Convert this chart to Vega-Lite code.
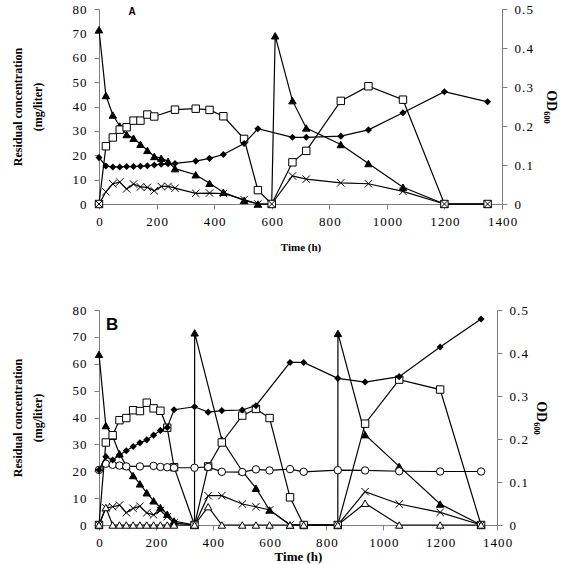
{
  "$schema": "https://vega.github.io/schema/vega-lite/v6.json",
  "background": "white",
  "padding": {"left": 11, "top": 3, "right": 2, "bottom": 2},
  "spacing": 52,
  "config": {
    "view": {"stroke": null},
    "axis": {
      "grid": false,
      "labelFont": "Liberation Serif",
      "labelFontSize": 13,
      "labelColor": "black",
      "titleFont": "Liberation Serif",
      "titleFontWeight": "bold",
      "titleColor": "black",
      "domainColor": "#7f7f7f",
      "tickColor": "#7f7f7f",
      "tickSize": 5,
      "labelFlush": false,
      "labelOverlap": false,
      "labelExpr": "join(split(datum.label, ''), '\u200a')"
    }
  },
  "datasets": {
    "concA": [
      {"t": 0, "v": 71.5, "s": "tri"}, {"t": 24, "v": 44.5, "s": "tri"}, {"t": 48, "v": 36.5, "s": "tri"}, {"t": 72, "v": 32, "s": "tri"}, {"t": 96, "v": 28.5, "s": "tri"}, {"t": 120, "v": 27, "s": "tri"}, {"t": 144, "v": 24.5, "s": "tri"}, {"t": 168, "v": 22, "s": "tri"}, {"t": 192, "v": 19.5, "s": "tri"}, {"t": 216, "v": 18.8, "s": "tri"}, {"t": 240, "v": 17.5, "s": "tri"}, {"t": 264, "v": 14.5, "s": "tri"}, {"t": 336, "v": 12, "s": "tri"}, {"t": 384, "v": 8.5, "s": "tri"}, {"t": 432, "v": 4.8, "s": "tri"}, {"t": 504, "v": 1.5, "s": "tri"}, {"t": 552, "v": 0, "s": "tri"}, {"t": 600, "v": 0, "s": "tri"}, {"t": 612, "v": 69, "s": "tri"}, {"t": 672, "v": 42.4, "s": "tri"}, {"t": 720, "v": 31.2, "s": "tri"}, {"t": 840, "v": 24.4, "s": "tri"}, {"t": 936, "v": 16.6, "s": "tri"}, {"t": 1056, "v": 6.9, "s": "tri"}, {"t": 1200, "v": 0, "s": "tri"}, {"t": 1350, "v": 0, "s": "tri"},
      {"t": 0, "v": 0, "s": "sq"}, {"t": 24, "v": 23.7, "s": "sq"}, {"t": 48, "v": 27.3, "s": "sq"}, {"t": 72, "v": 30.5, "s": "sq"}, {"t": 96, "v": 31.5, "s": "sq"}, {"t": 120, "v": 34.2, "s": "sq"}, {"t": 144, "v": 34.2, "s": "sq"}, {"t": 168, "v": 36.7, "s": "sq"}, {"t": 192, "v": 35.9, "s": "sq"}, {"t": 264, "v": 38.7, "s": "sq"}, {"t": 336, "v": 39.1, "s": "sq"}, {"t": 384, "v": 38.6, "s": "sq"}, {"t": 432, "v": 36, "s": "sq"}, {"t": 504, "v": 26.7, "s": "sq"}, {"t": 552, "v": 5.7, "s": "sq"}, {"t": 600, "v": 0, "s": "sq"}, {"t": 672, "v": 17.1, "s": "sq"}, {"t": 720, "v": 21.8, "s": "sq"}, {"t": 840, "v": 42.3, "s": "sq"}, {"t": 936, "v": 48.3, "s": "sq"}, {"t": 1056, "v": 42.8, "s": "sq"}, {"t": 1200, "v": 0, "s": "sq"}, {"t": 1350, "v": 0, "s": "sq"},
      {"t": 0, "v": 0, "s": "x"}, {"t": 24, "v": 5, "s": "x"}, {"t": 48, "v": 8.3, "s": "x"}, {"t": 72, "v": 9, "s": "x"}, {"t": 96, "v": 6.2, "s": "x"}, {"t": 120, "v": 8.2, "s": "x"}, {"t": 144, "v": 7, "s": "x"}, {"t": 168, "v": 6.8, "s": "x"}, {"t": 192, "v": 5.4, "s": "x"}, {"t": 216, "v": 7.2, "s": "x"}, {"t": 240, "v": 7.2, "s": "x"}, {"t": 264, "v": 6.5, "s": "x"}, {"t": 336, "v": 4.4, "s": "x"}, {"t": 384, "v": 4.5, "s": "x"}, {"t": 432, "v": 4.3, "s": "x"}, {"t": 504, "v": 1.8, "s": "x"}, {"t": 552, "v": 0, "s": "x"}, {"t": 600, "v": 0, "s": "x"}, {"t": 672, "v": 11.5, "s": "x"}, {"t": 720, "v": 10.2, "s": "x"}, {"t": 840, "v": 8.7, "s": "x"}, {"t": 936, "v": 8.3, "s": "x"}, {"t": 1056, "v": 5.2, "s": "x"}, {"t": 1200, "v": 0, "s": "x"}, {"t": 1350, "v": 0, "s": "x"}
    ],
    "odA": [
      {"t": 0, "od": 0.119}, {"t": 24, "od": 0.0975}, {"t": 48, "od": 0.095}, {"t": 72, "od": 0.095}, {"t": 96, "od": 0.096}, {"t": 120, "od": 0.096}, {"t": 144, "od": 0.097}, {"t": 168, "od": 0.098}, {"t": 192, "od": 0.1}, {"t": 216, "od": 0.102}, {"t": 240, "od": 0.103}, {"t": 264, "od": 0.104}, {"t": 336, "od": 0.11}, {"t": 384, "od": 0.117}, {"t": 432, "od": 0.127}, {"t": 504, "od": 0.155}, {"t": 552, "od": 0.193}, {"t": 672, "od": 0.171}, {"t": 720, "od": 0.171}, {"t": 840, "od": 0.174}, {"t": 936, "od": 0.19}, {"t": 1056, "od": 0.234}, {"t": 1200, "od": 0.288}, {"t": 1350, "od": 0.262}
    ],
    "concB": [
      {"t": 0, "v": 63.5, "s": "tri"}, {"t": 24, "v": 37, "s": "tri"}, {"t": 48, "v": 33, "s": "tri"}, {"t": 72, "v": 26.5, "s": "tri"}, {"t": 96, "v": 22, "s": "tri"}, {"t": 120, "v": 18.4, "s": "tri"}, {"t": 144, "v": 15.3, "s": "tri"}, {"t": 168, "v": 12, "s": "tri"}, {"t": 192, "v": 9, "s": "tri"}, {"t": 216, "v": 6.5, "s": "tri"}, {"t": 240, "v": 4, "s": "tri"}, {"t": 264, "v": 1.5, "s": "tri"}, {"t": 336, "v": 0, "s": "tri"}, {"t": 336.5, "v": 71.5, "s": "tri"}, {"t": 432, "v": 31.7, "s": "tri"}, {"t": 504, "v": 20, "s": "tri"}, {"t": 552, "v": 13.7, "s": "tri"}, {"t": 600, "v": 5.6, "s": "tri"}, {"t": 672, "v": 0, "s": "tri"}, {"t": 840, "v": 0, "s": "tri"}, {"t": 840.5, "v": 71.3, "s": "tri"}, {"t": 936, "v": 33.6, "s": "tri"}, {"t": 1056, "v": 21.8, "s": "tri"}, {"t": 1200, "v": 7.8, "s": "tri"}, {"t": 1344, "v": 0, "s": "tri"},
      {"t": 0, "v": 0, "s": "sq"}, {"t": 24, "v": 30.7, "s": "sq"}, {"t": 48, "v": 33.4, "s": "sq"}, {"t": 72, "v": 39, "s": "sq"}, {"t": 96, "v": 39.8, "s": "sq"}, {"t": 120, "v": 42.7, "s": "sq"}, {"t": 144, "v": 42.4, "s": "sq"}, {"t": 168, "v": 45.5, "s": "sq"}, {"t": 192, "v": 43.4, "s": "sq"}, {"t": 216, "v": 42.5, "s": "sq"}, {"t": 240, "v": 36.2, "s": "sq"}, {"t": 264, "v": 21.5, "s": "sq"}, {"t": 336, "v": 0, "s": "sq"}, {"t": 384, "v": 21.8, "s": "sq"}, {"t": 432, "v": 30.7, "s": "sq"}, {"t": 504, "v": 40.7, "s": "sq"}, {"t": 552, "v": 43.2, "s": "sq"}, {"t": 600, "v": 39.8, "s": "sq"}, {"t": 672, "v": 10.3, "s": "sq"}, {"t": 720, "v": 0, "s": "sq"}, {"t": 840, "v": 0, "s": "sq"}, {"t": 936, "v": 37.7, "s": "sq"}, {"t": 1056, "v": 54.1, "s": "sq"}, {"t": 1200, "v": 50.4, "s": "sq"}, {"t": 1344, "v": 0, "s": "sq"},
      {"t": 0, "v": 0, "s": "x"}, {"t": 24, "v": 6.4, "s": "x"}, {"t": 48, "v": 6.8, "s": "x"}, {"t": 72, "v": 7.4, "s": "x"}, {"t": 96, "v": 4.6, "s": "x"}, {"t": 120, "v": 6.2, "s": "x"}, {"t": 144, "v": 7, "s": "x"}, {"t": 168, "v": 4.5, "s": "x"}, {"t": 192, "v": 3.8, "s": "x"}, {"t": 216, "v": 5.4, "s": "x"}, {"t": 240, "v": 3.1, "s": "x"}, {"t": 264, "v": 0.8, "s": "x"}, {"t": 336, "v": 0, "s": "x"}, {"t": 384, "v": 10.9, "s": "x"}, {"t": 432, "v": 10.9, "s": "x"}, {"t": 504, "v": 7.8, "s": "x"}, {"t": 552, "v": 6.8, "s": "x"}, {"t": 600, "v": 5.6, "s": "x"}, {"t": 672, "v": 0, "s": "x"}, {"t": 840, "v": 0, "s": "x"}, {"t": 936, "v": 12.4, "s": "x"}, {"t": 1056, "v": 7.8, "s": "x"}, {"t": 1200, "v": 4.7, "s": "x"}, {"t": 1344, "v": 0, "s": "x"},
      {"t": 0, "v": 20.5, "s": "circ"}, {"t": 24, "v": 22.8, "s": "circ"}, {"t": 48, "v": 22.4, "s": "circ"}, {"t": 72, "v": 22.1, "s": "circ"}, {"t": 96, "v": 21.8, "s": "circ"}, {"t": 144, "v": 21.8, "s": "circ"}, {"t": 192, "v": 22, "s": "circ"}, {"t": 216, "v": 21.6, "s": "circ"}, {"t": 240, "v": 21.5, "s": "circ"}, {"t": 264, "v": 21.3, "s": "circ"}, {"t": 336, "v": 21.3, "s": "circ"}, {"t": 384, "v": 21.6, "s": "circ"}, {"t": 432, "v": 19.8, "s": "circ"}, {"t": 504, "v": 19.7, "s": "circ"}, {"t": 552, "v": 20.7, "s": "circ"}, {"t": 600, "v": 20.3, "s": "circ"}, {"t": 672, "v": 20.8, "s": "circ"}, {"t": 720, "v": 19.8, "s": "circ"}, {"t": 840, "v": 20.4, "s": "circ"}, {"t": 936, "v": 20.3, "s": "circ"}, {"t": 1056, "v": 20, "s": "circ"}, {"t": 1200, "v": 19.9, "s": "circ"}, {"t": 1344, "v": 19.9, "s": "circ"},
      {"t": 0, "v": 0, "s": "otri"}, {"t": 24, "v": 6.5, "s": "otri"}, {"t": 48, "v": 0, "s": "otri"}, {"t": 72, "v": 0, "s": "otri"}, {"t": 96, "v": 0, "s": "otri"}, {"t": 120, "v": 0, "s": "otri"}, {"t": 144, "v": 0, "s": "otri"}, {"t": 168, "v": 0, "s": "otri"}, {"t": 192, "v": 0, "s": "otri"}, {"t": 216, "v": 0, "s": "otri"}, {"t": 240, "v": 0, "s": "otri"}, {"t": 264, "v": 0, "s": "otri"}, {"t": 336, "v": 0, "s": "otri"}, {"t": 384, "v": 6.8, "s": "otri"}, {"t": 432, "v": 0, "s": "otri"}, {"t": 504, "v": 0, "s": "otri"}, {"t": 552, "v": 0, "s": "otri"}, {"t": 600, "v": 0, "s": "otri"}, {"t": 672, "v": 0, "s": "otri"}, {"t": 720, "v": 0, "s": "otri"}, {"t": 840, "v": 0, "s": "otri"}, {"t": 936, "v": 8.1, "s": "otri"}, {"t": 1056, "v": 0, "s": "otri"}, {"t": 1200, "v": 0, "s": "otri"}, {"t": 1344, "v": 0, "s": "otri"}
    ],
    "odB": [
      {"t": 0, "od": 0.128}, {"t": 24, "od": 0.159}, {"t": 48, "od": 0.151}, {"t": 72, "od": 0.163}, {"t": 96, "od": 0.1725}, {"t": 120, "od": 0.1825}, {"t": 144, "od": 0.191}, {"t": 168, "od": 0.198}, {"t": 192, "od": 0.209}, {"t": 216, "od": 0.22}, {"t": 240, "od": 0.227}, {"t": 264, "od": 0.268}, {"t": 336, "od": 0.275}, {"t": 384, "od": 0.2625}, {"t": 432, "od": 0.266}, {"t": 504, "od": 0.2675}, {"t": 552, "od": 0.2775}, {"t": 672, "od": 0.378}, {"t": 720, "od": 0.378}, {"t": 840, "od": 0.341}, {"t": 936, "od": 0.3325}, {"t": 1056, "od": 0.345}, {"t": 1200, "od": 0.414}, {"t": 1344, "od": 0.479}
    ]
  },
  "vconcat": [
    {
      "width": 403,
      "height": 195,
      "layer": [
        {
          "encoding": {
            "x": {"field": "t", "type": "quantitative", "scale": {"domain": [0, 1400], "nice": false}, "axis": {"title": "Time (h)", "values": [0, 200, 400, 600, 800, 1000, 1200, 1400], "format": "d", "labelPadding": 6, "titlePadding": 13, "titleFontSize": 11}},
            "y": {"field": "v", "type": "quantitative", "scale": {"domain": [0, 80], "nice": false}, "axis": {"title": ["Residual concentration", "(mg/liter)"], "values": [0, 10, 20, 30, 40, 50, 60, 70, 80], "format": "d", "labelPadding": 8, "titlePadding": 27, "titleFontSize": 12, "titleLineHeight": 20}}
          },
          "layer": [
            {"data": {"name": "concA"}, "mark": {"type": "line", "color": "black", "strokeWidth": 1.2}, "encoding": {"detail": {"field": "s"}}},
            {"data": {"name": "concA"}, "mark": {"type": "point", "filled": true, "stroke": "black", "strokeWidth": 1, "opacity": 1, "fillOpacity": 1},
             "encoding": {
               "shape": {"field": "s", "type": "nominal", "scale": {"domain": ["tri", "sq", "x", "circ", "otri"], "range": ["triangle-up", "square", "M-1,-1L1,1M-1,1L1,-1", "circle", "triangle-up"]}, "legend": null},
               "fill": {"field": "s", "type": "nominal", "scale": {"domain": ["tri", "sq", "x", "circ", "otri"], "range": ["black", "white", "transparent", "white", "white"]}, "legend": null},
               "size": {"field": "s", "type": "nominal", "scale": {"domain": ["tri", "sq", "x", "circ", "otri"], "range": [55, 55, 60, 45, 50]}, "legend": null}
             }},
            {"data": {"values": [{"t": 115, "v": 78.9, "label": "A"}]}, "mark": {"type": "text", "font": "Liberation Sans", "fontWeight": "bold", "fontSize": 10, "align": "center", "baseline": "middle", "color": "black"}, "encoding": {"text": {"field": "label"}}}
          ]
        },
        {
          "data": {"name": "odA"},
          "encoding": {
            "x": {"field": "t", "type": "quantitative", "scale": {"domain": [0, 1400], "nice": false}, "axis": {"title": "Time (h)", "values": [0, 200, 400, 600, 800, 1000, 1200, 1400], "format": "d", "labelPadding": 6, "titlePadding": 13, "titleFontSize": 11}},
            "y": {"field": "od", "type": "quantitative", "scale": {"domain": [0, 0.5], "nice": false}, "axis": {"orient": "right", "title": "OD₆₀₀", "values": [0, 0.1, 0.2, 0.3, 0.4, 0.5], "format": "~g", "labelPadding": 7, "titlePadding": 11, "titleFontSize": 14}}
          },
          "layer": [
            {"mark": {"type": "line", "color": "black", "strokeWidth": 1.2}},
            {"mark": {"type": "point", "shape": "diamond", "filled": true, "color": "black", "size": 50, "opacity": 1}}
          ]
        }
      ],
      "resolve": {"scale": {"y": "independent"}, "axis": {"y": "independent"}}
    },
    {
      "width": 398,
      "height": 215,
      "layer": [
        {
          "encoding": {
            "x": {"field": "t", "type": "quantitative", "scale": {"domain": [0, 1400], "nice": false}, "axis": {"title": "Time (h)", "values": [0, 200, 400, 600, 800, 1000, 1200, 1400], "format": "d", "labelPadding": 6, "titlePadding": 1, "titleFontSize": 13}},
            "y": {"field": "v", "type": "quantitative", "scale": {"domain": [0, 80], "nice": false}, "axis": {"title": ["Residual concentration", "(mg/liter)"], "values": [0, 10, 20, 30, 40, 50, 60, 70, 80], "format": "d", "labelPadding": 8, "titlePadding": 27, "titleFontSize": 12, "titleLineHeight": 20}}
          },
          "layer": [
            {"data": {"name": "concB"}, "mark": {"type": "line", "color": "black", "strokeWidth": 1.2}, "encoding": {"detail": {"field": "s"}}},
            {"data": {"name": "concB"}, "mark": {"type": "point", "filled": true, "stroke": "black", "strokeWidth": 1, "opacity": 1, "fillOpacity": 1},
             "encoding": {
               "shape": {"field": "s", "type": "nominal", "scale": {"domain": ["tri", "sq", "x", "circ", "otri"], "range": ["triangle-up", "square", "M-1,-1L1,1M-1,1L1,-1", "circle", "triangle-up"]}, "legend": null},
               "fill": {"field": "s", "type": "nominal", "scale": {"domain": ["tri", "sq", "x", "circ", "otri"], "range": ["black", "white", "transparent", "white", "white"]}, "legend": null},
               "size": {"field": "s", "type": "nominal", "scale": {"domain": ["tri", "sq", "x", "circ", "otri"], "range": [55, 55, 60, 45, 50]}, "legend": null}
             }},
            {"data": {"values": [{"t": 46, "v": 74.3, "label": "B"}]}, "mark": {"type": "text", "font": "Liberation Sans", "fontWeight": "bold", "fontSize": 17, "align": "center", "baseline": "middle", "color": "black"}, "encoding": {"text": {"field": "label"}}}
          ]
        },
        {
          "data": {"name": "odB"},
          "encoding": {
            "x": {"field": "t", "type": "quantitative", "scale": {"domain": [0, 1400], "nice": false}, "axis": {"title": "Time (h)", "values": [0, 200, 400, 600, 800, 1000, 1200, 1400], "format": "d", "labelPadding": 6, "titlePadding": 1, "titleFontSize": 13}},
            "y": {"field": "od", "type": "quantitative", "scale": {"domain": [0, 0.5], "nice": false}, "axis": {"orient": "right", "title": "OD₆₀₀", "values": [0, 0.1, 0.2, 0.3, 0.4, 0.5], "format": "~g", "labelPadding": 7, "titlePadding": 6, "titleFontSize": 14}}
          },
          "layer": [
            {"mark": {"type": "line", "color": "black", "strokeWidth": 1.2}},
            {"mark": {"type": "point", "shape": "diamond", "filled": true, "color": "black", "size": 50, "opacity": 1}}
          ]
        }
      ],
      "resolve": {"scale": {"y": "independent"}, "axis": {"y": "independent"}}
    }
  ]
}
